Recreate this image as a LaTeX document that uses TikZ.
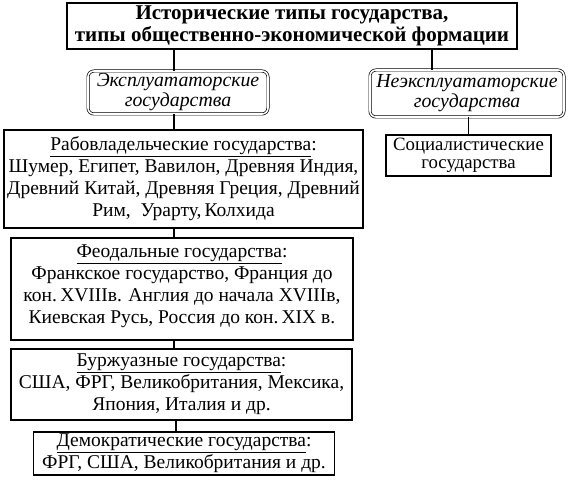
\documentclass[tikz,border=0pt]{standalone}
\usepackage{fontspec}
\setmainfont{Liberation Serif}
\usetikzlibrary{positioning, calc}

\tikzset{
  titlebox/.style={draw, line width=2.4pt, minimum width=450pt, minimum height=46pt,
                   inner sep=0pt, align=center,
                   font=\fontsize{21}{22.5}\selectfont\bfseries},
  typebox/.style={draw, double, double distance=1.6pt, line width=0.7pt,
                  rounded corners=6pt, inner sep=0pt, align=center,
                  font=\fontsize{19.8}{20}\selectfont\itshape},
  statebox/.style={draw, line width=1.2pt, inner sep=0pt, align=center,
                   font=\fontsize{19.5}{22}\selectfont},
  link/.style={line width=1.8pt}
}

\begin{document}
\begin{tikzpicture}[x=1pt, y=-1pt]
  \useasboundingbox (0,0) rectangle (572,481);

  % top
  \node[titlebox] (title) at (292,26) {
    Исторические типы государства,\\
    типы общественно-экономической формации
  };

  % two kinds of states
  \node[typebox, minimum width=180pt, minimum height=43pt] (expl) at (178,92.5) {
    Эксплуататорские\\ государства
  };
  \node[typebox, minimum width=194pt, minimum height=47pt] (nexpl) at (467,93.5) {
    Неэксплуататорские\\ государства
  };
  \node[statebox, minimum width=165pt, minimum height=41pt,
        font=\fontsize{18.8}{18}\selectfont] (social) at (468.5,155.5) {
    Социалистические\\ государства
  };

  % exploiting states, column
  \node[statebox, minimum width=359pt, minimum height=98pt] (rab) at (183.5,179) {
    \underline{Рабовладельческие государства}:\\
    Шумер, Египет, Вавилон, Древняя Индия,\\
    Древний Китай, Древняя Греция, Древний\\
    Рим,~~Урарту,\,Колхида
  };
  \node[statebox, minimum width=342pt, minimum height=102pt] (feod) at (182,289) {
    \underline{Феодальные государства}:\\
    Франкское государство, Франция до\\
    кон.\,XVIIIв. Англия до начала XVIIIв,\\
    Киевская Русь, Россия до кон.\,XIX в.\\[-12pt]
  };
  \node[statebox, minimum width=341pt, minimum height=71pt] (burzh) at (181.5,384.5) {
    \underline{Буржуазные государства}:\\
    США, ФРГ, Великобритания, Мексика,\\
    Япония, Италия и др.
  };
  \node[statebox, minimum width=301pt, minimum height=43pt] (demo) at (184,453.5) {
    \underline{Демократические государства}:\\
    ФРГ, США, Великобритания и др.
  };

  % connectors
  \coordinate (spine) at ([xshift=-4pt]expl.south);
  \coordinate (spine2) at ([xshift=-2pt]expl.south);
  \coordinate (tr) at ([xshift=140pt]title.south);
  \draw[link] (title.south -| spine) -- (spine |- expl.north);
  \draw[link] (tr) -- (tr |- nexpl.north);
  \draw[link] (nexpl.south -| social.north) -- (social.north);
  \draw[link] (spine) -- (spine |- rab.north);
  \draw[link] (rab.south -| spine) -- (spine |- feod.north);
  \draw[link] (feod.south -| spine) -- (spine |- burzh.north);
  \draw[link] (burzh.south -| spine2) -- (spine2 |- demo.north);
\end{tikzpicture}
\end{document}
